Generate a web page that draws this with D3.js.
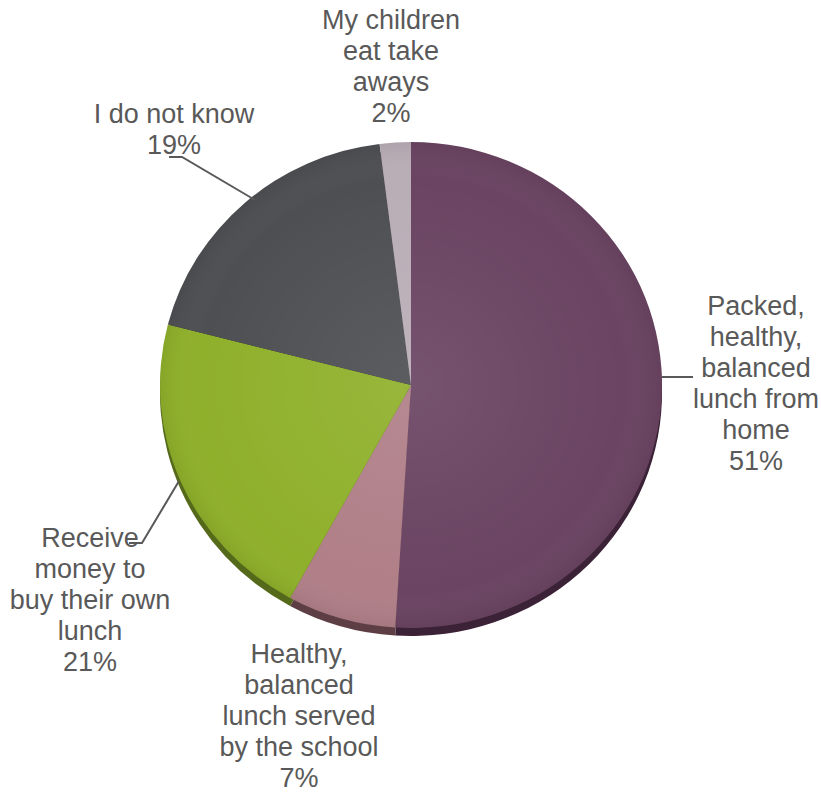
<!DOCTYPE html>
<html>
<head>
<meta charset="utf-8">
<script src="https://cdn.jsdelivr.net/npm/d3@7"></script>
<style>
  body { margin: 0; background: #fff; }
  svg text { font-family: "Liberation Sans", Arial, sans-serif; fill: #595959; }
</style>
</head>
<body>
<svg id="chart" width="821" height="794"></svg>
<script>
// data
const categories = [
  'Packed, healthy, balanced lunch from home',
  'Healthy, balanced lunch served by the school',
  'Receive money to buy their own lunch',
  'I do not know',
  'My children eat take aways'
];
const values = [51, 7, 21, 19, 2];
const labelLines = [
  ['Packed,', 'healthy,', 'balanced', 'lunch from', 'home'],
  ['Healthy,', 'balanced', 'lunch served', 'by the school'],
  ['Receive', 'money to', 'buy their own', 'lunch'],
  ['I do not know'],
  ['My children', 'eat take', 'aways']
];

const colors = ['#6a4462', '#b07f88', '#8fb02b', '#4e4f53', '#b9adb6'];
const sideColors = ['#3b2236', '#5e3e45', '#55691a', '#2c2d30', '#786c75'];

// layout
const cx = 411, cy = 385, rx = 251, ry = 243, depth = 8;
const lineH = 31;
// label anchor: centre x, baseline of first line
const labelPos = [
  { x: 756, y: 315 },
  { x: 299, y: 663 },
  { x: 90, y: 547 },
  { x: 174, y: 123 },
  { x: 391, y: 29 }
];
const leaders = [
  [[662, 377], [693, 377]],
  null,
  [[179, 481], [142, 543], [129, 543]],
  [[255, 200], [182, 157], [169, 157]],
  null
];

const svg = d3.select('#chart');

const pie = d3.pie().sort(null).value((d) => d);
const arcs = pie(values);
const arc = d3.arc().innerRadius(0).outerRadius(rx);

// side of the tilted pie
svg.append('g')
  .attr('transform', `translate(${cx},${cy + depth}) scale(1,${ry / rx})`)
  .selectAll('path')
  .data(arcs)
  .enter()
  .append('path')
  .attr('d', arc)
  .attr('fill', (d, i) => sideColors[i]);

// top face
const face = svg.append('g')
  .attr('transform', `translate(${cx},${cy}) scale(1,${ry / rx})`);

const defs = svg.append('defs');
const grad = defs.append('radialGradient').attr('id', 'shade')
  .attr('cx', '50%').attr('cy', '50%').attr('r', '50%');
grad.append('stop').attr('offset', '0%').attr('stop-color', '#fff').attr('stop-opacity', 0.08);
grad.append('stop').attr('offset', '85%').attr('stop-color', '#fff').attr('stop-opacity', 0);
grad.append('stop').attr('offset', '100%').attr('stop-color', '#000').attr('stop-opacity', 0.06);

face.selectAll('path.slice')
  .data(arcs)
  .enter()
  .append('path')
  .attr('class', 'slice')
  .attr('d', arc)
  .attr('fill', (d, i) => colors[i]);

face.append('circle')
  .attr('r', rx)
  .attr('fill', 'url(#shade)');

// leader lines
svg.append('g')
  .selectAll('polyline')
  .data(leaders.filter((l) => l))
  .enter()
  .append('polyline')
  .attr('points', (d) => d.map((p) => p.join(',')).join(' '))
  .attr('fill', 'none')
  .attr('stroke', '#595959')
  .attr('stroke-width', 2);

// labels
const labels = svg.append('g')
  .selectAll('text')
  .data(arcs)
  .enter()
  .append('text')
  .attr('text-anchor', 'middle')
  .attr('font-size', 27)
  .attr('x', (d, i) => labelPos[i].x)
  .attr('y', (d, i) => labelPos[i].y);

labels.each(function (d, i) {
  const lines = labelLines[i].concat([d.data + '%']);
  d3.select(this)
    .selectAll('tspan')
    .data(lines)
    .enter()
    .append('tspan')
    .attr('x', labelPos[i].x)
    .attr('dy', (t, j) => (j === 0 ? 0 : lineH))
    .text((t) => t);
});
</script>
</body>
</html>
